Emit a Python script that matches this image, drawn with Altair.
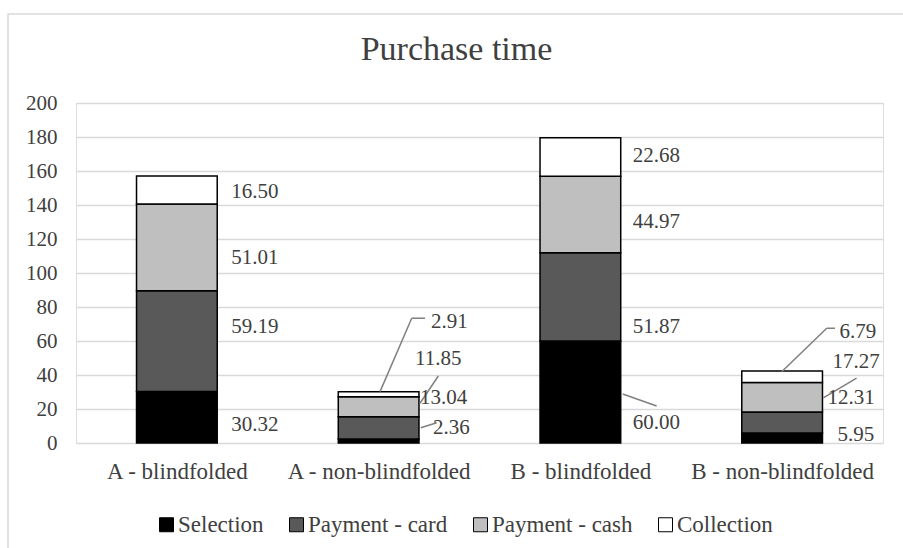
import json
import altair as alt
import pandas as pd

# ---- data ----
categories = ["A - blindfolded", "A - non-blindfolded", "B - blindfolded", "B - non-blindfolded"]
series = ["Selection", "Payment - card", "Payment - cash", "Collection"]
selection = [30.32, 2.36, 60.00, 5.95]
payment_card = [59.19, 13.04, 51.87, 12.31]
payment_cash = [51.01, 11.85, 44.97, 17.27]
collection = [16.50, 2.91, 22.68, 6.79]
y_ticks = [0, 20, 40, 60, 80, 100, 120, 140, 160, 180, 200]
colors = ["#000000", "#595959", "#bfbfbf", "#ffffff"]

# label placement (value-axis position of each data label, per category, in series order)
label_y = [
    [10.6, 68.4, 108.8, 147.8],
    [8.6, 26.7, 49.2, 71.4],
    [11.6, 68.4, 130.2, 168.8],
    [4.7, 26.5, 47.8, 65.5],
]
# horizontal shift of each label from the bar's right edge (pixels)
label_dx = [
    [14, 14, 14, 14],
    [14, 1, -4, 12],
    [12, 12, 12, 12],
    [15, 5, 10, 17],
]
# leader lines (category-axis units, value-axis units)
leader_x = [1.507, 1.664, 1.705, 1.709, 2.710, 3.498, 3.721, 3.704]
leader_x2 = [1.664, 1.730, 1.796, 1.788, 2.878, 3.721, 3.762, 3.869]
leader_y = [30.2, 73.4, 23.4, 9.0, 28.8, 41.9, 67.5, 26.5]
leader_y2 = [73.4, 73.4, 39.4, 11.9, 21.8, 67.5, 67.5, 38.2]

W, H = 807, 340
HALF = 0.2
PX_PER_UNIT = W / 4.0
FONT = "'Liberation Serif', 'Times New Roman', serif"
TXT = "#404040"

values = [selection, payment_card, payment_cash, collection]
rows = []
for i, cat in enumerate(categories):
    base = 0.0
    for j, s in enumerate(series):
        v = values[j][i]
        rows.append({
            "category": cat, "series": s, "value": v,
            "x0": i + 0.5 - HALF, "x1": i + 0.5 + HALF,
            "y0": base, "y1": base + v,
            "lx": i + 0.5 + HALF + label_dx[i][j] / PX_PER_UNIT,
            "ly": label_y[i][j],
            "label": f"{v:.2f}",
            "order": j,
        })
        base += v
df = pd.DataFrame(rows)
leaders = pd.DataFrame({"x": leader_x, "x2": leader_x2, "y": leader_y, "y2": leader_y2})

label_expr = json.dumps(categories) + "[floor(datum.value)]"

xscale = alt.Scale(domain=[0, 4], nice=False, zero=False)
yscale = alt.Scale(domain=[0, 200], nice=False, zero=True)

xaxis = alt.Axis(values=[0.5, 1.5, 2.5, 3.5], labelExpr=label_expr, grid=False,
                 domain=False, ticks=False, labelPadding=17, labelFontSize=23,
                 labelFont=FONT, labelColor=TXT, labelOverlap=False, labelLimit=400,
                 tickCount=10)
yaxis = alt.Axis(values=y_ticks, grid=True, gridColor="#d9d9d9",
                 gridWidth=1.5, domain=False, ticks=False, labelPadding=19,
                 labelFontSize=21, labelFont=FONT, labelColor=TXT,
                 labelOverlap=False, tickCount=len(y_ticks) + 5)

bars = alt.Chart(df).mark_bar(stroke="black", strokeWidth=1.5).encode(
    x=alt.X("x0:Q", scale=xscale, title=None, axis=xaxis),
    x2="x1:Q",
    y=alt.Y("y0:Q", scale=yscale, title=None, axis=yaxis),
    y2="y1:Q",
    color=alt.Color("series:N", scale=alt.Scale(domain=series, range=colors),
                    legend=alt.Legend(title=None, orient="none", legendX=79, legendY=410,
                                      direction="horizontal", symbolType="square",
                                      symbolSize=196, symbolStrokeColor="black",
                                      symbolStrokeWidth=1, labelFontSize=23, labelFont=FONT,
                                      labelColor=TXT, labelOffset=0, columnPadding=21,
                                      labelLimit=300, padding=0)),
)

labels = alt.Chart(df).mark_text(align="left", baseline="middle", font=FONT,
                                 fontSize=21, color=TXT).encode(
    x=alt.X("lx:Q", scale=xscale, title=None, axis=xaxis),
    y=alt.Y("ly:Q", scale=yscale, title=None, axis=yaxis),
    text="label:N",
)

lines = alt.Chart(leaders).mark_rule(color="#7f7f7f", strokeWidth=1.5).encode(
    x=alt.X("x:Q", scale=xscale, title=None, axis=xaxis), x2="x2:Q",
    y=alt.Y("y:Q", scale=yscale, title=None, axis=yaxis), y2="y2:Q",
)

frame = alt.Chart(pd.DataFrame({"a": [0]})).mark_rect(
    fillOpacity=0, stroke="#d9d9d9", strokeWidth=1.5
).encode(x=alt.value(-68), x2=alt.value(830), y=alt.value(-89), y2=alt.value(450))

chart = alt.layer(frame, bars, lines, labels).properties(
    width=W, height=H,
    title=alt.TitleParams("Purchase time", font=FONT, fontSize=34, fontWeight="normal",
                          color=TXT, anchor="middle", dx=-23, offset=-54),
    autosize=alt.AutoSizeParams(type="none"),
    padding={"left": 76, "top": 103, "right": 20, "bottom": 105},
).configure_view(stroke=None).configure(background="white")

chart.save("out.html", embed_options={"renderer": "svg", "actions": False})
